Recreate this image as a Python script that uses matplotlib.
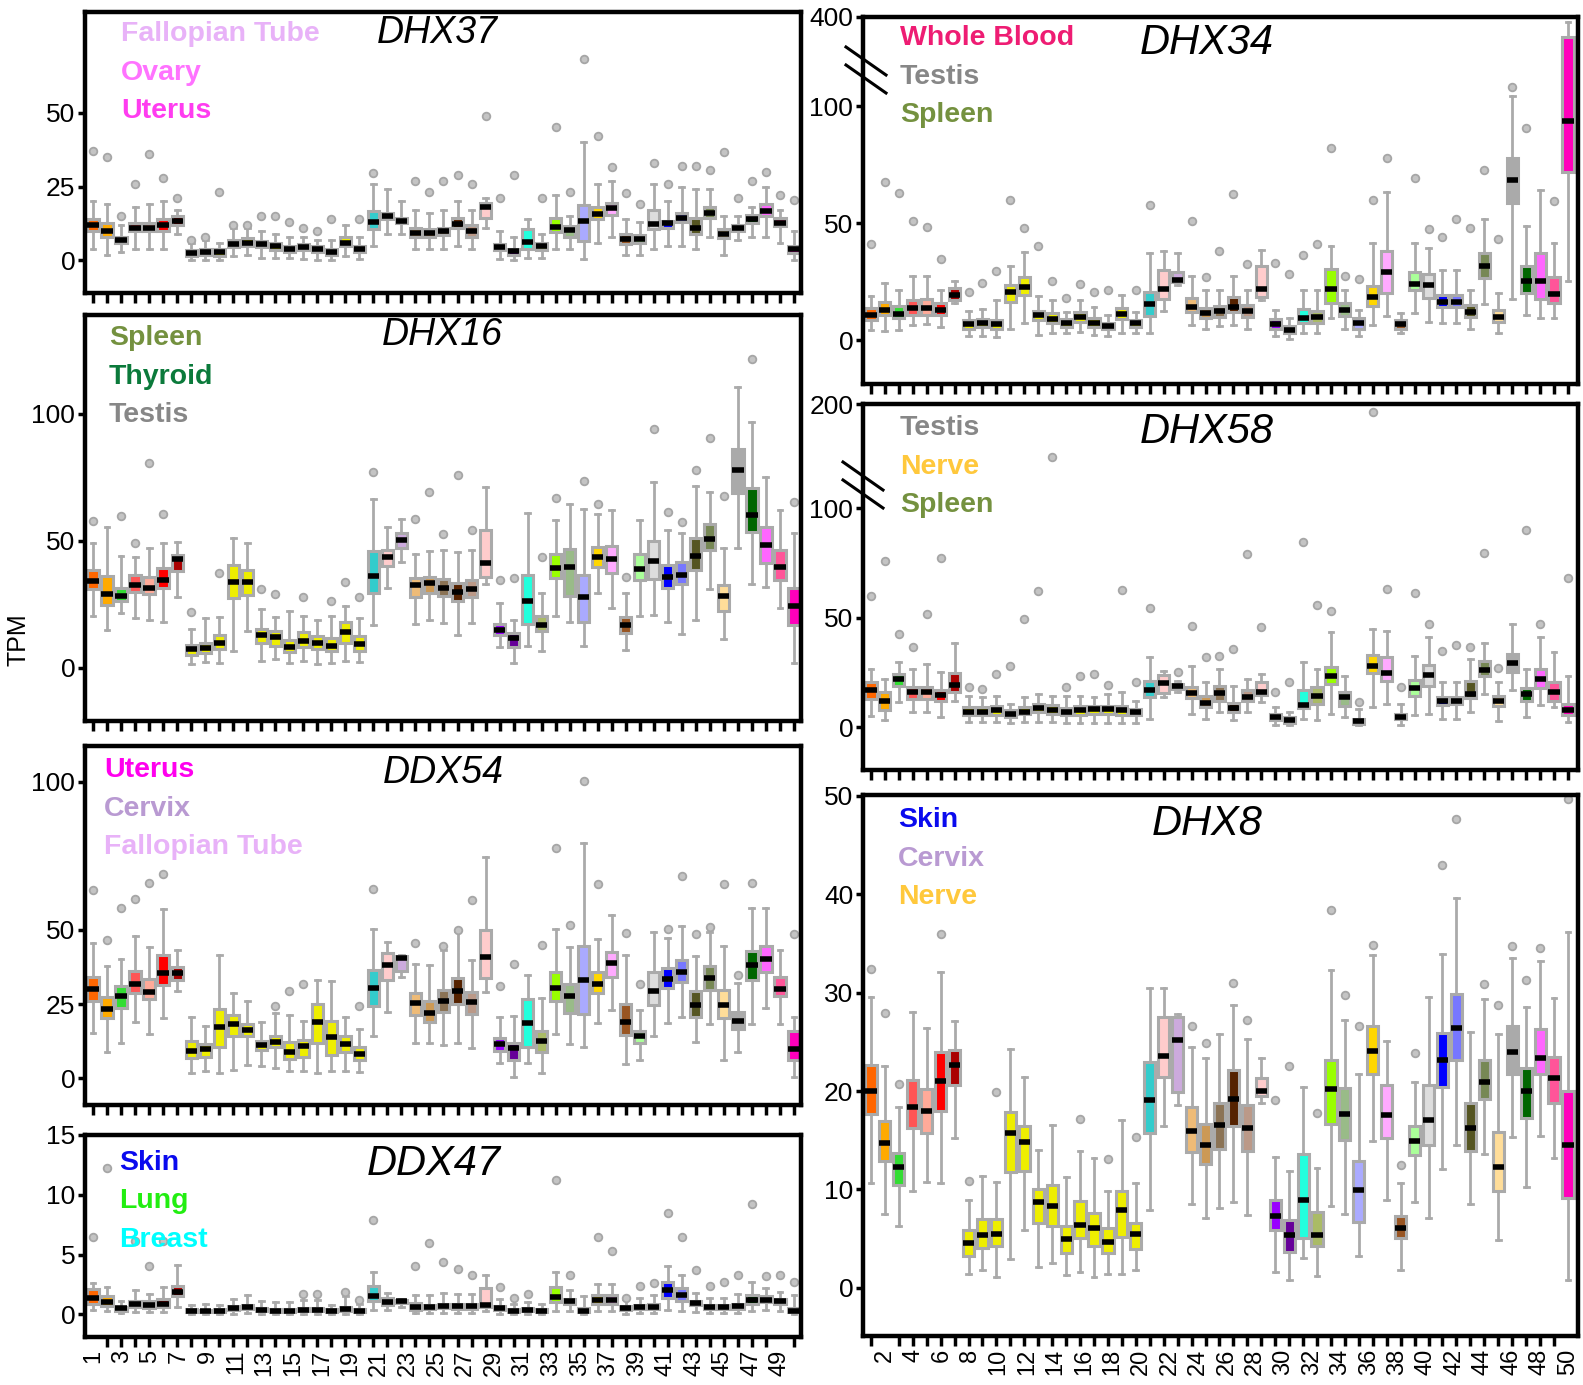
import numpy as np
import matplotlib
matplotlib.use("Agg")
import matplotlib.pyplot as plt
from matplotlib.lines import Line2D
from matplotlib.ticker import NullLocator

W, H = 1583, 1385
plt.rcParams["font.family"] = ["Liberation Sans Narrow", "Liberation Sans", "DejaVu Sans"]
nan = np.nan

# GTEx tissue colours, 51 tissues in the plotted order
tissue_colors = ["#FF6600", "#FFAA00", "#33DD33", "#FF5555", "#FFAA99", "#FF0000", "#AA0000"] + \
    ["#EEEE00"] * 13 + \
    ["#33CCCC", "#FFCCCC", "#CCAADD", "#EEBB77", "#CC9955", "#8B7355", "#552200", "#BB9988",
     "#FFCCCC", "#9900FF", "#660099", "#22FFDD", "#AABB66", "#99FF00", "#99BB88", "#AAAAFF",
     "#FFD700", "#FFAAFF", "#995522", "#AAFF99", "#DDDDDD", "#0000FF", "#7777FF", "#555522",
     "#778855", "#FFDD99", "#AAAAAA", "#006600", "#FF66FF", "#FF5599", "#FF00BB"]
positions = np.arange(1, 52)

# ---- box statistics per gene: whisker low, q1, median, q3, whisker high, top outlier ----
dhx37_lo = [4, 2, 3, 4, 4, 4, 9, 0, 0, 0, 1.5, 2, 1, 1, 1, 0.5, 0, 0, 1.5, 0.5,
            5, 9, 9, 4, 4, 4, 5, 4, 11, 0.5, 0, 1, 1, 4, 4, 0.5, 6, 8, 2, 2, 4, 5, 5, 4, 8, 2, 7, 8, 8, 6, 0]
dhx37_q1 = [10, 8, 6, 10, 10, 10, 12, 1.5, 2, 1.5, 4.5, 5, 4.5, 3.5, 3, 3.5, 3, 2, 5, 3,
            10.5, 13.9, 12.5, 8, 8, 8.5, 11, 8, 14.5, 3.5, 2, 4, 3.5, 9.5, 8, 6.7, 14, 15.5, 5.5, 6, 10.5,
            11, 13, 9, 14.5, 7.5, 10, 12.5, 15, 11.5, 2.5]
dhx37_med = [12, 10, 7, 11, 11, 12, 13.5, 2.5, 3, 3, 5.5, 6, 5.5, 5, 4, 4.5, 4, 3, 6, 4,
             13, 15, 13.5, 9.4, 9.4, 9.8, 12.4, 9.8, 18, 4.4, 3.1, 6.4, 4.8, 11.3, 10.2, 13.5, 15.8, 17.8,
             7.2, 7.2, 12.4, 12.8, 14.4, 11.1, 15.9, 9.1, 10.9, 13.9, 16.7, 12.8, 3.9]
dhx37_q3 = [14, 12.5, 8, 12.5, 12.5, 14, 15, 3.5, 4, 4, 7, 7.5, 6.5, 6, 5, 5.5, 5, 4, 8, 5,
            16.7, 16.1, 14.5, 11, 10.5, 11, 14.5, 12, 19.4, 5.5, 4, 10.5, 6, 14.5, 11.5, 18.9, 18, 19.5,
            9, 8.5, 17, 13.5, 16, 14.5, 18, 10.5, 12, 15.5, 19, 14.5, 5]
dhx37_hi = [20, 19, 12, 18, 19, 20, 17, 6, 7, 6, 11, 11, 10, 9, 8, 8, 7, 7, 12, 8,
            26, 24, 20, 17, 16, 17, 20, 17, 21, 10, 8, 14, 9, 22, 15, 40, 26, 27, 14, 13, 26, 20, 25, 24,
            24, 15, 15, 18, 25, 17, 10]
dhx37_out = [37, 35, 15, 26, 36, 28, 21, 7, 8, 23, 12, 12, 15, 15, 13, 11, 10, 14, nan, 14,
             29.7, nan, nan, 27, 23, 27, 29, 26, 48.7, 21, 29, nan, 21, 45, 23, 68, 42, 31.7, 22.8, 19,
             32.8, 26, 32, 32, 30.6, 36.7, 21, 27, 30, 22, 20.6]

dhx16_lo = [20.2, 14.8, 21.5, 19.6, 18.7, 18, 28, 1.6, 2.2, 2, 6.5, 14.4, 2.6, 3.5, 2, 2.6, 1.6, 2, 2.6, 2.2,
            17, 31.3, 41.8, 17.4, 19, 17.6, 13, 17.6, 32.9, 8, 1.7, 8.7, 6.5, 20.2, 17.9, 8.7, 29.6, 23.5,
            6.8, 20.2, 20.9, 18, 13.4, 19, 30.9, 11.4, 47.3, 32.9, 32, 23.5, 2]
dhx16_q1 = [30.9, 24.8, 26.4, 30, 29.1, 31.3, 38.1, 5.2, 5.9, 7.2, 27.4, 28.7, 9.8, 8.5, 6.1, 8.1, 7.2, 6.5,
            9.8, 6.5, 29.6, 40.1, 47, 28, 29.6, 28.3, 26.4, 27.7, 35.9, 12.7, 8.2, 17.4, 14.4, 35.2, 28.3, 18,
            39.8, 37.5, 13.7, 34.6, 35.1, 31.3, 32.9, 38.5, 46.3, 22.2, 68.9, 53.5, 41.4, 34.6, 17]
dhx16_med = [34.3, 29, 28.1, 32.5, 31.6, 34.7, 43, 7.2, 7.8, 9.8, 33.9, 33.9, 12.8, 12, 8.1, 10.4, 9.8, 8.7,
             14, 9.4, 36.3, 43.7, 50.5, 32.4, 33.3, 31.3, 29.9, 31.2, 41.1, 14.8, 11.7, 26.4, 17, 39.4, 39.8,
             27.8, 43.7, 42.9, 16.7, 38.9, 42, 35.6, 36.7, 44.1, 50.9, 28.1, 77.9, 60.3, 48.3, 39.8, 24.2]
dhx16_q3 = [38.5, 36.2, 31.3, 36.5, 35.6, 39.2, 44.4, 9.1, 9.8, 13, 40.5, 38.5, 15.4, 14.4, 10.8, 14, 12.4,
            11.7, 17.9, 12.4, 46.1, 46.3, 52.9, 35.5, 35.9, 34.9, 33.3, 34.6, 54.4, 17.4, 13.7, 36.6, 20.2,
            44.8, 46.6, 36.6, 47.6, 47.9, 19.8, 45, 50, 40.5, 41.5, 51.3, 56.8, 32.6, 86.2, 70.8, 55.5, 46.3, 31.3]
dhx16_hi = [49.2, 55.5, 44, 43.7, 47, 49.2, 49.6, 15.3, 19.6, 20, 51.2, 49.2, 23.1, 19.8, 22.2, 20.2, 18.9,
            20.2, 24.2, 19.6, 66.3, 55.5, 58.7, 45, 46, 46.3, 45.7, 46.3, 71.4, 25.5, 19, 61, 29.4, 58.1, 64.6,
            62.7, 60.7, 62, 29.4, 58.4, 73.1, 54.4, 52.9, 71.8, 69.2, 47.3, 110.6, 97, 75.1, 62.3, 52.9]
dhx16_out = [58, nan, 59.7, 49.2, 80.5, 60.4, nan, 21.9, nan, 37.5, nan, nan, 31.1, 29, nan, 27.7, nan, 26.4,
             33.9, 27.7, 77, nan, nan, 58.7, 69.2, 52.6, 76.1, 54.2, nan, 34.6, 35.2, nan, 43.7, 66.8, nan,
             73.5, 64.6, nan, 35.9, nan, 93.9, 61.2, 57.4, 77.9, 90.7, 67.5, nan, 121.8, nan, nan, 65.3]

ddx54_lo = [15.4, 8.8, 11.8, 18.9, 15, 20.3, 29.5, 1.7, 2.6, 1.7, 2.8, 4.5, 4.2, 3.6, 2.3, 2.3, 1.9, 2.3, 2.3, 2,
            14.4, 22.2, 34.3, 11.8, 11.8, 11.3, 11.8, 10.1, 29.1, 5.1, 0.6, 5.1, 1.7, 14.9, 11.6, 10.7, 18.6,
            23.1, 4.7, 6.2, 14.4, 18.6, 20.5, 12.2, 18.2, 6.2, 9, 18.2, 23.6, 18.2, 0.6]
ddx54_q1 = [26.2, 20.3, 23.6, 28.7, 26.7, 31.5, 33.2, 6.8, 7.1, 10.7, 14.1, 14.1, 9.6, 10.7, 6.5, 7.3, 11.8,
            7.9, 9, 6.2, 24.4, 33, 36, 21.4, 19.1, 22.2, 25.1, 21.6, 33.8, 9.2, 6.2, 10.5, 9, 25.9, 22, 21.6,
            28.7, 34.1, 14.6, 11.8, 24.8, 30.4, 32.4, 20.6, 29.8, 20.3, 16.6, 33, 35.8, 27.9, 6.2]
ddx54_med = [30.2, 23.3, 27.6, 31.9, 29.1, 35.5, 35.5, 9.3, 9.9, 17.2, 18.4, 16.3, 11.3, 12.4, 9, 10.9, 19.1,
             13.9, 11.5, 8.1, 30.6, 38.1, 40.4, 25.3, 22, 25.9, 29.3, 25.6, 40.9, 11.6, 10.1, 18.6, 12.7, 30.4,
             27.6, 33, 31.9, 38.9, 19.1, 14.1, 29.5, 33.4, 35.7, 24.8, 33.8, 24.8, 19.4, 38.1, 40.2, 30.2, 9.9]
ddx54_q3 = [34.1, 27.3, 31.2, 36, 33.6, 41.4, 37.4, 12.7, 11.6, 23.3, 21.4, 18.2, 12.6, 14.3, 12.4, 13, 25.1,
            19.4, 14.3, 10.5, 36.4, 42.2, 41.1, 28.7, 25.9, 29.6, 33.8, 29.1, 50.1, 13.5, 11.8, 26.7, 16.1, 35.8,
            31.8, 44.5, 35.7, 42.5, 25, 16, 35.7, 37.2, 39.9, 29.5, 37.7, 29.8, 22.5, 42.8, 44.7, 34.3, 15.8]
ddx54_hi = [45.6, 38, 40.2, 47.9, 44.3, 56.9, 43.4, 20.6, 17.5, 41.7, 28.7, 26.2, 19.1, 22, 21.2, 19.4, 33.2,
            32.9, 20.6, 16.6, 50.3, 45.8, 41.6, 38.5, 38.3, 43.4, 49.5, 40, 74.5, 20.8, 21, 34.9, 27, 50.3,
            44.3, 79.4, 47, 55, 41.4, 23.1, 49.3, 47.3, 51.2, 41.3, 49.2, 44.5, 32.1, 57.4, 57.4, 43.4, 20.8]
ddx54_out = [63.6, 46.5, 57.4, 60.6, 65.7, 69, nan, nan, nan, nan, nan, nan, nan, 24.4, 29.3, 31.9, nan, nan,
             nan, 24.4, 63.9, nan, nan, 45.6, nan, 44.7, 50.1, 60.2, nan, 31.2, 38.5, nan, 45, 77.7, 51.8, 100.2,
             65.5, nan, 49, 31.8, nan, 50.3, 68.1, 48.8, 50.9, 65.5, 34.9, 65.7, nan, nan, 48.8]

ddx47_lo = [0.4, 0.25, 0.1, 0.2, 0.2, 0.2, 0.6, 0, 0, 0, 0.05, 0.1, 0, 0, 0, 0, 0, 0, 0, 0,
            0.4, 0.4, 0.6, 0.1, 0.1, 0.1, 0.1, 0.1, 0.3, 0.05, 0, 0, 0, 0.3, 0.3, 0, 0.3, 0.3, 0.05, 0.1, 0.1,
            0.4, 0.3, 0.2, 0.1, 0.1, 0.1, 0.3, 0.4, 0.3, 0]
ddx47_q1 = [0.9, 0.7, 0.3, 0.6, 0.5, 0.65, 1.5, 0.2, 0.2, 0.2, 0.35, 0.45, 0.25, 0.2, 0.2, 0.25, 0.25, 0.2,
            0.3, 0.2, 1.15, 0.8, 0.95, 0.4, 0.45, 0.5, 0.45, 0.45, 0.6, 0.35, 0.2, 0.25, 0.2, 1.0, 0.85, 0.15,
            0.9, 0.9, 0.35, 0.45, 0.45, 1.4, 1.1, 0.75, 0.45, 0.45, 0.45, 0.9, 1.0, 0.9, 0.15]
ddx47_med = [1.4, 1.0, 0.5, 0.9, 0.77, 0.9, 1.9, 0.3, 0.3, 0.3, 0.5, 0.6, 0.38, 0.3, 0.3, 0.35, 0.35, 0.3,
             0.45, 0.3, 1.5, 1.0, 1.1, 0.65, 0.65, 0.72, 0.67, 0.67, 0.77, 0.5, 0.3, 0.38, 0.3, 1.46, 1.1, 0.3,
             1.2, 1.2, 0.5, 0.6, 0.6, 2.05, 1.6, 0.97, 0.6, 0.6, 0.67, 1.23, 1.23, 1.08, 0.3]
ddx47_q3 = [2.1, 1.5, 0.6, 1.15, 1.1, 1.3, 2.4, 0.45, 0.4, 0.45, 0.7, 0.8, 0.55, 0.45, 0.45, 0.5, 0.5, 0.45,
            0.6, 0.45, 2.4, 1.4, 1.2, 0.95, 0.8, 0.9, 0.9, 0.85, 2.2, 0.7, 0.45, 0.55, 0.45, 2.3, 1.3, 0.5,
            1.6, 1.6, 0.7, 0.8, 0.85, 2.7, 2.2, 1.15, 0.75, 0.75, 0.85, 1.6, 1.5, 1.3, 0.5]
ddx47_hi = [2.6, 2.3, 1.1, 2.0, 1.7, 2.3, 4.1, 0.8, 0.9, 0.8, 1.3, 1.6, 1.15, 1.0, 1.0, 1.2, 1.2, 0.8, 1.5,
            0.9, 3.5, 1.8, 1.3, 1.6, 1.6, 1.8, 1.7, 1.7, 3.3, 1.3, 0.9, 1.0, 0.9, 3.5, 2.0, 1.5, 2.5, 2.5, 1.3,
            1.4, 1.6, 4.0, 3.3, 1.8, 1.4, 1.4, 1.7, 2.7, 2.2, 1.9, 1.6]
ddx47_out = [6.5, 12.2, nan, 6.1, 4.05, 6.1, nan, nan, nan, nan, nan, nan, nan, nan, nan, 1.7, 1.7, nan, 1.9,
             1.2, 7.9, nan, nan, 4.0, 6.0, 4.4, 3.8, 3.3, nan, 2.3, 1.4, 1.7, nan, 11.2, 3.3, nan, 6.5, 5.3,
             1.4, 2.4, 2.6, 8.5, 6.5, 3.7, 2.4, 2.7, 3.3, 9.2, 3.2, 3.3, 2.7]

dhx34_lo = [4.3, 4, 4.3, 6.5, 6.9, 5.5, 15.8, 1.7, 1.7, 1.4, 5, 7.2, 2.2, 2.9, 2.9, 3.6, 2.2, 1.7, 2.9, 2.9,
            3.2, 12.7, 23.7, 6.5, 4.6, 6, 6.5, 5, 17.3, 1.7, 0.7, 3.2, 2.9, 9.4, 5, 1.7, 6.5, 10.4, 3.2, 11.8,
            7.9, 7.2, 7.2, 5, 15.5, 3.2, 17.6, 10.8, 9.4, 9.4, 25.5]
dhx34_q1 = [8.6, 10.8, 9.4, 10.8, 10.8, 10.8, 17.3, 5, 5.5, 4.8, 16.5, 19.4, 8.6, 7.2, 5.8, 7.9, 5.8, 4.6, 8.9,
            5.5, 10.4, 17.6, 24.7, 12.2, 9.4, 10.1, 12.2, 10.1, 18.4, 5, 2.9, 7.5, 7.5, 16.1, 10.4, 5, 14.7,
            20.1, 5, 21.6, 18, 14.4, 14.4, 10.1, 26.6, 7.9, 58.7, 20.1, 17.6, 15.8, 71.7]
dhx34_med = [10.8, 13, 11.1, 13.7, 13.7, 13, 19.4, 6.9, 7.5, 6.9, 20.4, 22.7, 10.8, 8.9, 7.2, 10.1, 7.5, 6,
             11.1, 7.2, 15.5, 22, 25.9, 14.4, 11.5, 12.5, 14.4, 12.5, 21.9, 6.9, 4.3, 9.6, 10.1, 22, 13, 7.5,
             18.4, 29.1, 6.8, 24.2, 23.7, 16.5, 16.5, 12.2, 31.7, 10.1, 68.6, 25.5, 25.5, 19.9, 93.5]
dhx34_q3 = [13.7, 16.5, 14.7, 17.3, 17.6, 15.8, 22.3, 8.6, 9.2, 8.6, 23.7, 27, 12.7, 11.5, 8.9, 12.2, 9.6, 7.5,
            13.7, 8.6, 20.4, 29.9, 29, 18, 13.7, 14.7, 18.3, 15.1, 31.7, 8.9, 6, 13.2, 12.7, 30.5, 15.8, 9.4,
            23, 38.1, 8.6, 29.1, 28.1, 19.4, 19.4, 15.1, 37.1, 12.9, 78, 31.9, 37.1, 27, 331.7]
dhx34_hi = [18.7, 24.5, 21.6, 27.3, 27.3, 21.6, 25.2, 12.7, 13.2, 17.3, 31.9, 37.7, 18.7, 17.3, 12.2, 17.3,
            14.4, 10.8, 19.4, 12.2, 37.4, 38.1, 37.4, 27.3, 21.6, 21.6, 27.3, 21.6, 38.6, 12.9, 9.4, 21.6, 21.6,
            40.3, 21.6, 12.9, 41.7, 63.3, 11.5, 41.7, 39.6, 30.2, 30.2, 21.6, 52, 20.1, 134, 48.9, 64.3, 41.7, 383]
dhx34_out = [41, 67.6, 63, 51, 48.2, 34.8, nan, 20.4, 24.5, 29.5, 60, 47.8, 40.3, 25.2, 18, 24.2, 20.4, 21.6,
             nan, 21.6, 57.6, nan, nan, 51, 26.9, 38.1, 62.6, 32.4, nan, 33.1, 28.3, 36.3, 41.3, 82, 27.3, 26.2,
             59.7, 78, nan, 69.4, 47.5, 43.9, 52, 47.8, 72.7, 43.2, 164, 90.6, nan, 59.3, nan]

dhx58_lo = [5, 3, 11.4, 6.8, 6.8, 4.5, 12.1, 2.3, 2.3, 2.3, 1.8, 2.3, 2.3, 2.3, 1.8, 1.8, 1.8, 1.8, 1.8, 1.8,
            3.8, 13.6, 15.9, 6.1, 3.8, 6.8, 3.3, 6.8, 11.4, 1.1, 0.8, 3.8, 3, 6.1, 4.5, 0.8, 9.1, 10.6, 1.1,
            5.6, 6.1, 3.8, 3.8, 7.1, 15.2, 2.6, 16.7, 4.5, 10.2, 9.1, 2.3]
dhx58_q1 = [12.9, 8, 18.9, 12.9, 12.9, 12.1, 15.9, 5.3, 5.6, 5.6, 4.5, 6.1, 7.1, 6.1, 5.3, 5.3, 6.1, 6.1, 5.6,
            5.3, 13.6, 15.6, 17.4, 13.2, 9.1, 12.1, 6.8, 12.1, 14.7, 3, 2, 8.6, 10.6, 19.7, 9.8, 1.5, 24.5, 21.2,
            3.5, 14.1, 18.9, 10.2, 10.6, 13.2, 23.2, 9.8, 25.3, 12.1, 17.7, 12.1, 5.3]
dhx58_med = [16.7, 11.7, 22, 15.9, 15.9, 14.7, 19.2, 7.1, 7.1, 7.6, 6.1, 7.1, 8.6, 7.9, 6.8, 7.6, 8.3, 8.3,
             7.6, 6.8, 16.7, 20.2, 18.6, 15.6, 11.1, 15.6, 8.6, 13.6, 15.9, 4.5, 3, 10.2, 14.1, 23.5, 13.6, 2.7,
             28, 24.7, 4.8, 17.7, 23.8, 12.1, 12.1, 15.2, 26.2, 11.7, 29.2, 15.2, 22, 15.9, 7.6]
dhx58_q3 = [20.5, 15.9, 24.2, 18.5, 18.5, 16.7, 24.5, 9.1, 9.1, 9.4, 8, 9.1, 10.6, 10.2, 8.6, 9.4, 9.8, 9.8,
            9.4, 8.3, 20.9, 23.8, 19.7, 18.5, 14.4, 18.9, 11.1, 16.7, 20.5, 6.1, 4.5, 16.7, 18.2, 27.3, 15.9,
            3.8, 32.9, 32.1, 6.1, 21.7, 28.5, 13.6, 13.6, 21.2, 30.3, 14.4, 33.3, 17.7, 26.5, 20.5, 10.6]
dhx58_hi = [26.5, 22, 29.5, 26.5, 28.8, 25, 38.3, 14.4, 13.6, 14.4, 10.6, 13.6, 15.2, 14.4, 14.4, 14.4, 13.6,
            15.2, 15.9, 12.1, 31.8, 25.8, 21.2, 28, 20.5, 26.5, 18.9, 22, 24.2, 9.1, 6.8, 29.5, 26.5, 43.2,
            23.5, 8.3, 44.7, 43.9, 10.6, 32.6, 40.9, 20.5, 20.5, 31.1, 38.6, 20.5, 47, 26.5, 40.9, 34.1, 23.5]
dhx58_out = [59.8, 75.8, 42.4, 36.4, 51.5, 77.3, nan, 18.2, 17.4, 24.2, 28, 49.2, 62.1, 149, 18.5, 23.5, 24.2,
             19.2, 62.4, 20.5, 54.5, nan, 25.3, 46.2, 31.8, 32.6, 35.6, 79.1, 45.9, 15.9, 20.5, 84.5, 55.6, 53,
             nan, 11.4, 191.9, 63.2, 18.2, 61.4, 47, 34.8, 37.4, 36.7, 79.5, 26.8, nan, 89.8, 47, nan, 68.2]

dhx8_lo = [10.7, 7.5, 6.3, 9.8, 10.8, 10.7, 15.2, 1.4, 1.8, 1.1, 2.9, 5.9, 2.1, 2.5, 1.3, 1.6, 1.1, 1.4, 1.4,
           1.8, 7.9, 16.5, 18.6, 8.5, 7.1, 8.1, 8.7, 7.4, 18.8, 1.6, 0.8, 3, 1.2, 8.3, 7.5, 3.2, 14.9, 8.9, 1.8,
           8.7, 7.1, 12.1, 14.5, 8.5, 13.6, 4.9, 15.3, 10.2, 15.4, 13.2, 0.8]
dhx8_q1 = [17.7, 12.9, 10.5, 16.2, 15.7, 18, 20.6, 3.2, 4, 4.2, 11.8, 11.9, 6.6, 6.3, 3.5, 5.1, 4.2, 3.5, 5.2,
           3.9, 15.7, 21.4, 19.9, 13.8, 12.6, 14.1, 16.5, 13.9, 19.5, 5.9, 3.6, 5.1, 4.2, 16.7, 15, 6.7, 21.7,
           15.2, 5.1, 13.5, 14.5, 20.4, 23.2, 13.9, 19.2, 9.8, 21.7, 17.3, 21.7, 18.8, 9.1]
dhx8_med = [20, 14.7, 12.3, 18.4, 18, 21, 22.7, 4.6, 5.4, 5.5, 15.7, 14.8, 8.7, 8.3, 5, 6.4, 6.1, 4.7, 7.9, 5.5,
            19.1, 23.6, 25.2, 15.9, 14.5, 16.6, 19.2, 16.2, 20, 7.3, 5.4, 8.9, 5.4, 20.2, 17.7, 9.9, 24.1, 17.6,
            6.1, 14.9, 17.1, 23.2, 26.4, 16.2, 20.9, 12.3, 24, 20, 23.4, 21.3, 14.5]
dhx8_q3 = [22.7, 17, 13.7, 21.1, 20.2, 24, 24.2, 5.9, 7, 7, 17.9, 16.4, 10, 10.5, 6.3, 8.8, 7.6, 6.1, 9.8, 6.6,
           23, 27.5, 27.5, 18.4, 16.7, 18.8, 22.1, 18.6, 21.3, 8.9, 6.9, 13.6, 7.7, 23.2, 20.3, 12.9, 26.6, 20.6,
           7.3, 16.5, 20.6, 25.9, 29.9, 18.8, 23.2, 15.8, 26.6, 22.3, 26.3, 23.5, 20]
dhx8_hi = [29.6, 22.5, 18.4, 28, 26.4, 32.1, 27.1, 8.9, 11.4, 10.8, 24.3, 21.4, 14, 16.6, 11.3, 13.9, 13.2, 9.8,
           17.1, 10.7, 30.5, 30.5, 27.8, 24.5, 23.4, 25.8, 28.7, 25.3, 23.4, 13.3, 11.9, 20.4, 12.2, 32.3, 27.2,
           21.7, 33.8, 25.1, 10.7, 20.9, 29.6, 33.9, 39.6, 26, 29.4, 25.8, 33.5, 28.5, 33.2, 29.5, 36.2]
dhx8_out = [32.4, 27.9, 20.7, nan, nan, 36, nan, 10.9, nan, 19.9, nan, nan, nan, nan, nan, 17.2, nan, 13.1, nan,
            15.3, nan, nan, nan, 26.6, 24.9, nan, 31, 27.2, nan, 19.1, 22.5, nan, 17.8, 38.4, 29.8, 26.6, 34.8,
            nan, 12.5, 23.9, nan, 43, 47.7, nan, 30.9, 28.7, 34.7, 31.3, 34.5, nan, 49.7]

left_labels = [str(i) for i in range(1, 50, 2)]
right_labels = [str(i) for i in range(2, 51, 2)]

fig = plt.figure(figsize=(W / 100, H / 100), dpi=100)


def box_stats(lo, q1, med, q3, hi, out):
    st = []
    for a, b, c, d, e, f in zip(lo, q1, med, q3, hi, out):
        st.append(dict(whislo=a, q1=b, med=c, q3=d, whishi=e,
                       fliers=[] if np.isnan(f) else [f]))
    return st


def broken(k):
    def fwd(v):
        v = np.asarray(v, dtype=float)
        return np.where(v <= 100, v, 100 + (v - 100) * k)

    def inv(u):
        u = np.asarray(u, dtype=float)
        return np.where(u <= 100, u, 100 + (u - 100) / k)
    return fwd, inv


def panel(px, data, ylim, yticks, xlim, scale=None):
    x0, y0, x1, y1 = px
    ax = fig.add_axes([x0 / W, 1 - y1 / H, (x1 - x0) / W, (y1 - y0) / H])
    if scale is not None:
        ax.set_yscale("function", functions=broken(scale))
    bp = ax.bxp(box_stats(*data), positions=positions, widths=0.8, capwidths=0.35,
                patch_artist=True, manage_ticks=False,
                boxprops=dict(edgecolor="#aaaaaa", linewidth=2.2),
                whiskerprops=dict(color="#aaaaaa", linewidth=2.0),
                capprops=dict(color="#aaaaaa", linewidth=2.0),
                medianprops=dict(color="black", linewidth=4.0, solid_capstyle="butt"),
                flierprops=dict(marker="o", markersize=5.5, markerfacecolor="#c4c4c4",
                                markeredgecolor="#a6a6a6", markeredgewidth=1.3))
    for patch, c in zip(bp["boxes"], tissue_colors):
        patch.set_facecolor(c)
    ax.set_xlim(*xlim)
    ax.set_ylim(*ylim)
    ax.set_yticks(yticks)
    ax.set_yticklabels([str(t) for t in yticks])
    ax.yaxis.set_minor_locator(NullLocator())
    ax.tick_params(axis="y", length=5, width=2.5, labelsize=19, pad=2)
    ax.set_xticks(positions, minor=True)
    ax.set_xticks([])
    ax.tick_params(axis="x", which="minor", length=7, width=2.5, direction="out")
    for sp in ax.spines.values():
        sp.set_linewidth(3.2)
        sp.set_color("black")
    return ax


LX = (85, 801)
RX = (863, 1578)
lxlim = (0.43, 51.5)
rxlim = (0.43, 51.72)

panel((LX[0], 12, LX[1], 293),
      (dhx37_lo, dhx37_q1, dhx37_med, dhx37_q3, dhx37_hi, dhx37_out), (-11, 84), [0, 25, 50], lxlim)
panel((LX[0], 315, LX[1], 721),
      (dhx16_lo, dhx16_q1, dhx16_med, dhx16_q3, dhx16_hi, dhx16_out), (-21, 139), [0, 50, 100], lxlim)
panel((LX[0], 746, LX[1], 1105),
      (ddx54_lo, ddx54_q1, ddx54_med, ddx54_q3, ddx54_hi, ddx54_out), (-9, 112), [0, 25, 50, 100], lxlim)
ax_b = panel((LX[0], 1135, LX[1], 1337),
             (ddx47_lo, ddx47_q1, ddx47_med, ddx47_q3, ddx47_hi, ddx47_out), (-1.9, 15), [0, 5, 10, 15], lxlim)
ax_b.set_xticks(np.linspace(1, 50, 25))
ax_b.set_xticklabels(left_labels, rotation=90, fontsize=17)
ax_b.tick_params(axis="x", which="major", length=0, pad=9)

panel((RX[0], 17, RX[1], 384),
      (dhx34_lo, dhx34_q1, dhx34_med, dhx34_q3, dhx34_hi, dhx34_out), (-18.7, 400), [0, 50, 100, 400],
      rxlim, scale=0.127)
panel((RX[0], 404, RX[1], 770),
      (dhx58_lo, dhx58_q1, dhx58_med, dhx58_q3, dhx58_hi, dhx58_out), (-19.6, 200), [0, 50, 100, 200],
      rxlim, scale=0.475)
ax_r = panel((RX[0], 795, RX[1], 1336),
             (dhx8_lo, dhx8_q1, dhx8_med, dhx8_q3, dhx8_hi, dhx8_out), (-4.9, 50.1), [0, 10, 20, 30, 40, 50],
             rxlim)
ax_r.set_xticks(np.linspace(2, 51, 25))
ax_r.set_xticklabels(right_labels, rotation=90, fontsize=17)
ax_r.tick_params(axis="x", which="major", length=0, pad=9)


# axis-break strokes on the two right-hand panels
def break_mark(cx, cy):
    for dy in (-9, 9):
        xs = np.array([cx - 20, cx + 20]) / W
        ys = 1 - np.array([cy + dy - 14, cy + dy + 14]) / H
        fig.add_artist(Line2D(xs, ys, color="black", linewidth=2.2, transform=fig.transFigure))


break_mark(866, 70)
break_mark(863, 485)

# gene titles
titles = [("DHX37", 437, 33, 27), ("DHX16", 442, 335, 27), ("DDX54", 443, 773, 27),
          ("DDX47", 434, 1164, 30), ("DHX34", 1207, 43, 30), ("DHX58", 1207, 432, 30),
          ("DHX8", 1207, 824, 30)]
for name, cx, cy, fs in titles:
    fig.text(cx / W, 1 - cy / H, name, fontsize=fs, style="italic", ha="center", va="center")

# top-expressing tissues per gene
legends = [
    (121, 34, [("Fallopian Tube", "#E8B2F8"), ("Ovary", "#FF72FF"), ("Uterus", "#FF3CF0")]),
    (109, 338, [("Spleen", "#74913F"), ("Thyroid", "#0B7A3B"), ("Testis", "#878787")]),
    (104, 770, [("Uterus", "#FF00EE"), ("Cervix", "#B99AD2"), ("Fallopian Tube", "#E8B2F8")]),
    (119, 1163, [("Skin", "#0A0AEE"), ("Lung", "#22EE11"), ("Breast", "#00FFFF")]),
    (900, 38, [("Whole Blood", "#EE1C73"), ("Testis", "#878787"), ("Spleen", "#74913F")]),
    (900, 428, [("Testis", "#878787"), ("Nerve", "#FFC83C"), ("Spleen", "#74913F")]),
    (898, 820, [("Skin", "#0A0AEE"), ("Cervix", "#B99AD2"), ("Nerve", "#FFC83C")]),
]
for x, y, items in legends:
    for i, (txt, col) in enumerate(items):
        fig.text(x / W, 1 - (y + 38.5 * i) / H, txt, color=col, fontsize=20.5,
                 fontweight="bold", ha="left", va="center")

fig.text(18 / W, 1 - 640 / H, "TPM", rotation=90, fontsize=18, ha="center", va="center")

fig.savefig("out.png", dpi=100)
